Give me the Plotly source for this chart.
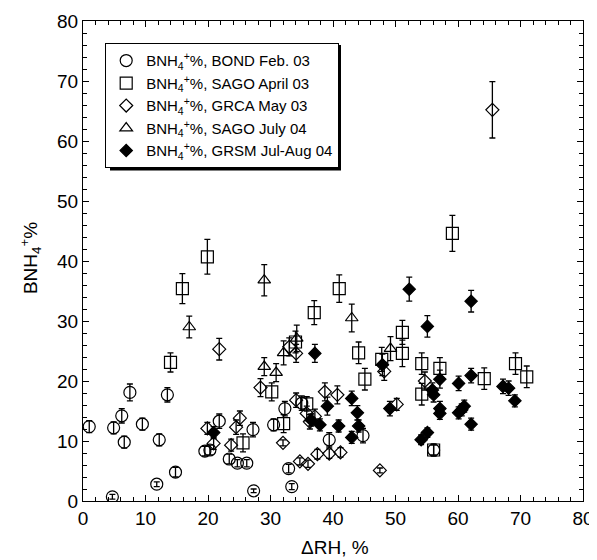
import plotly.graph_objects as go

# ---- data ----
bond_x = [1.0, 4.9, 6.2, 6.6, 7.5, 9.5, 12.2, 13.5, 4.7, 11.8, 14.8, 21.8, 19.5, 20.3, 23.4, 24.7, 26.2,
          27.2, 27.3, 30.5, 32.3, 35.0, 39.4, 44.8, 32.9, 33.4, 56.1]
bond_y = [12.4, 12.2, 14.2, 9.8, 18.1, 12.8, 10.2, 17.7, 0.7, 2.8, 4.8, 13.3, 8.3, 8.5, 7.0, 6.3, 6.3,
          11.9, 1.7, 12.7, 15.4, 16.3, 10.2, 10.9, 5.4, 2.4, 8.5]
bond_e = [1.0, 1.0, 1.2, 1.0, 1.4, 1.0, 1.0, 1.2, 0.4, 0.4, 0.8, 1.2, 0.8, 0.8, 0.8, 0.6, 0.6,
          1.2, 0.3, 1.0, 1.2, 1.2, 1.2, 1.2, 0.7, 0.5, 1.0]

sagoA_x = [14.0, 15.9, 19.9, 25.6, 30.2, 32.1, 34.0, 35.8, 37.0, 41.0, 44.1, 45.1, 47.8, 51.1, 51.1,
           54.2, 54.2, 56.1, 57.1, 59.1, 64.2, 69.2, 71.0]
sagoA_y = [23.1, 35.4, 40.7, 9.7, 18.2, 12.9, 26.5, 16.2, 31.4, 35.4, 24.7, 20.3, 23.6, 28.1, 24.6,
           22.9, 17.8, 8.5, 22.1, 44.6, 20.4, 22.9, 20.7]
sagoA_e = [1.6, 2.5, 2.9, 1.5, 1.5, 1.5, 1.8, 1.2, 2.0, 2.3, 1.8, 1.8, 2.0, 2.0, 2.2,
           1.8, 1.8, 0.8, 1.8, 3.0, 1.8, 1.8, 1.8]

grca_x = [19.9, 20.9, 21.8, 23.7, 24.5, 25.1, 28.4, 32.0, 33.0, 34.1, 34.1, 34.7, 35.8, 36.0, 36.3,
          37.1, 37.5, 38.7, 39.4, 40.7, 41.2, 47.5, 48.2, 50.2, 54.7, 65.5]
grca_y = [12.1, 9.6, 25.3, 9.3, 12.3, 13.8, 18.9, 9.7, 25.7, 24.6, 16.8, 6.6, 14.6, 6.2, 13.2,
          14.1, 7.8, 18.2, 7.9, 17.7, 8.1, 5.1, 21.6, 16.1, 20.0, 65.2]
grca_e = [1.0, 1.0, 1.8, 1.0, 1.2, 1.2, 1.5, 0.5, 1.5, 1.5, 1.2, 0.6, 1.2, 0.6, 1.2,
          1.2, 0.8, 1.5, 0.8, 1.5, 0.8, 0.4, 1.5, 1.0, 1.5, 4.7]

sagoJ_x = [17.0, 29.0, 29.0, 30.9, 32.1, 34.2, 43.0, 49.2]
sagoJ_y = [29.0, 36.8, 22.4, 21.4, 24.7, 27.1, 30.5, 25.4]
sagoJ_e = [1.8, 2.6, 1.5, 1.5, 2.0, 2.2, 2.3, 2.0]

grsm_x = [20.9, 36.5, 37.1, 37.9, 39.1, 40.9, 43.0, 43.0, 43.9, 44.1, 47.9, 49.1, 52.2, 54.1, 55.1,
          55.1, 55.9, 56.1, 57.1, 57.1, 57.1, 60.1, 60.1, 60.6, 61.0, 62.1, 62.1, 62.1, 67.2, 68.1, 69.1]
grsm_y = [11.4, 13.5, 24.6, 12.7, 15.8, 12.5, 17.1, 10.6, 14.7, 12.5, 22.7, 15.4, 35.3, 10.2, 11.4,
          29.1, 18.5, 17.7, 20.3, 15.4, 14.6, 19.6, 14.7, 15.2, 15.8, 33.3, 20.9, 12.8, 19.1, 18.8, 16.7]
grsm_e = [1.0, 1.0, 1.5, 1.0, 1.5, 1.0, 1.2, 1.0, 1.2, 1.0, 1.8, 1.2, 2.0, 0.8, 0.8,
          1.8, 1.2, 1.2, 1.5, 1.2, 1.0, 1.2, 1.0, 1.0, 1.0, 1.8, 1.2, 1.0, 1.2, 1.2, 1.0]

series_names = [
    "BNH<sub>4</sub><sup>+</sup>%, BOND Feb. 03",
    "BNH<sub>4</sub><sup>+</sup>%, SAGO April 03",
    "BNH<sub>4</sub><sup>+</sup>%, GRCA May 03",
    "BNH<sub>4</sub><sup>+</sup>%, SAGO July 04",
    "BNH<sub>4</sub><sup>+</sup>%, GRSM Jul-Aug 04",
]

x_ticks = [0, 10, 20, 30, 40, 50, 60, 70, 80]
y_ticks = [0, 10, 20, 30, 40, 50, 60, 70, 80]

FONT = "Liberation Sans, Arial, Helvetica, sans-serif"

styles = [
    dict(symbol="circle-open", size=12),
    dict(symbol="square-open", size=12),
    dict(symbol="diamond-open", size=10),
    dict(symbol="triangle-up-open", size=11),
    dict(symbol="diamond", size=9.5),
]
datasets = [(bond_x, bond_y, bond_e), (sagoA_x, sagoA_y, sagoA_e), (grca_x, grca_y, grca_e),
            (sagoJ_x, sagoJ_y, sagoJ_e), (grsm_x, grsm_y, grsm_e)]

fig = go.Figure()
for (xs, ys, es), name, st in zip(datasets, series_names, styles):
    fig.add_trace(go.Scatter(
        x=xs, y=ys, mode="markers", name=name,
        marker=dict(symbol=st["symbol"], size=st["size"], color="black",
                    line=dict(color="black", width=1.2)),
        error_y=dict(type="data", array=es, visible=True, color="black", thickness=1.3, width=3),
    ))

axis_common = dict(
    showgrid=False, zeroline=False, showline=True, linecolor="black", linewidth=1.3,
    mirror="ticks", ticks="inside", ticklen=6, tickwidth=1.2, tickcolor="black",
    tickfont=dict(family=FONT, size=19, color="black"),
    minor=dict(dtick=2, ticks="inside", ticklen=3.5, tickwidth=1, tickcolor="black"),
    automargin=False,
)

fig.update_xaxes(range=[0, 80], tickvals=x_ticks, ticktext=[str(v) for v in x_ticks], **axis_common)
fig.update_yaxes(range=[0, 80], tickvals=y_ticks, ticktext=[str(v) for v in y_ticks], **axis_common)

# page has an 8px body margin: figure is 589x552 placed at (8, 8)
fig.update_layout(
    width=589, height=552, autosize=False,
    margin=dict(l=75, r=14, t=13, b=59),
    plot_bgcolor="white", paper_bgcolor="white",
    font=dict(family=FONT, color="black"),
    legend=dict(x=0.044, y=0.954, xanchor="left", yanchor="top",
                bgcolor="white", bordercolor="black", borderwidth=1.2,
                font=dict(family=FONT, size=15, color="black"), tracegroupgap=0),
    showlegend=True,
    shapes=[
        # drop shadow of the legend box
        dict(type="rect", xref="paper", yref="paper", x0=0.054, x1=0.516, y0=0.6885, y1=0.95,
             fillcolor="black", line=dict(width=0), layer="above"),
    ],
    annotations=[
        dict(text="ΔRH, %", xref="paper", yref="paper", x=0.504, y=-0.097,
             xanchor="center", yanchor="middle", showarrow=False,
             font=dict(family=FONT, size=19, color="black")),
        dict(text="BNH<sub>4</sub><sup>+</sup>%", xref="paper", yref="paper", x=-0.105, y=0.505,
             xanchor="center", yanchor="middle", textangle=-90, showarrow=False,
             font=dict(family=FONT, size=19, color="black")),
    ],
)

fig.write_html("out.html")
